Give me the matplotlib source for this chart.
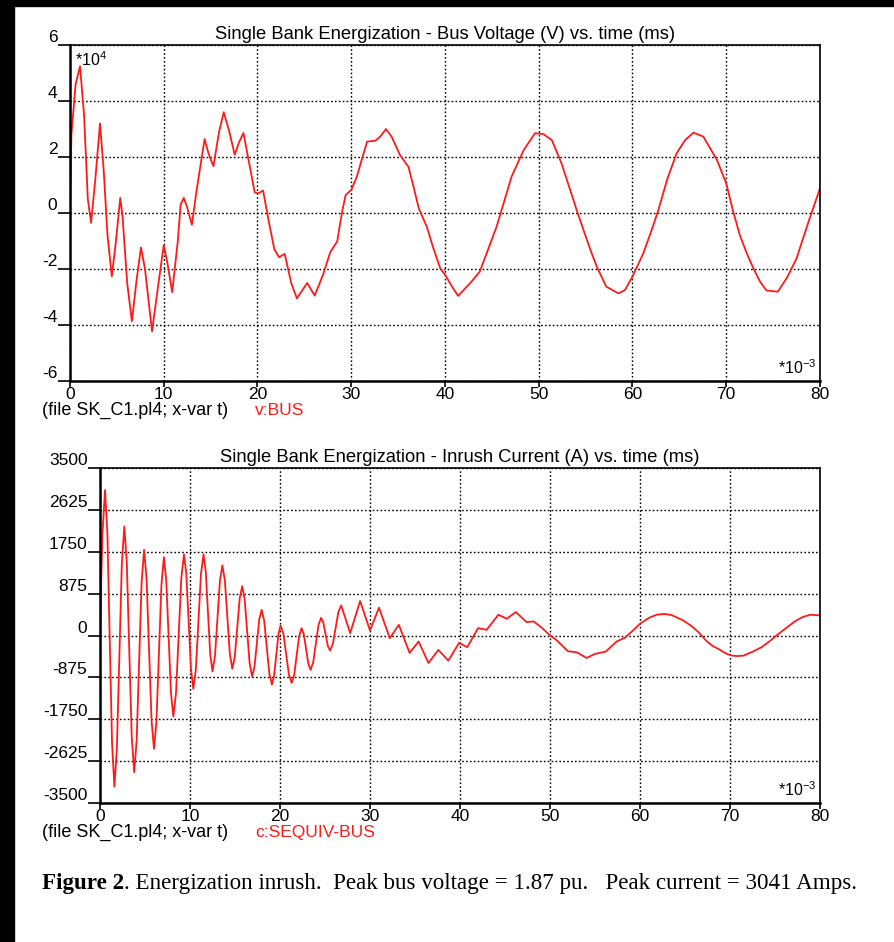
import matplotlib
matplotlib.use("Agg")
import matplotlib.pyplot as plt
from matplotlib.patches import Rectangle

plt.rcParams["font.family"] = ["Liberation Sans", "DejaVu Sans"]
plt.rcParams["mathtext.fontset"] = "custom"
plt.rcParams["mathtext.rm"] = "Liberation Sans"

# ── Data (time in ms) ─────────────────────────────────────────────────
t_volt = [0, 0.15, 0.6, 1.07, 1.5, 1.9, 2.25, 2.7, 3.2, 3.6, 4.0, 4.46, 4.9,
          5.36, 5.6, 6.1, 6.6, 7.1, 7.57, 8.0, 8.75, 9.4, 10, 10.4, 10.9,
          11.5, 11.8, 12.14, 12.5, 13.0, 13.5, 14.36, 14.8, 15.3, 15.9, 16.4,
          17.0, 17.57, 18.0, 18.5, 19.1, 19.7, 20.1, 20.6, 21.2, 21.8, 22.3,
          22.9, 23.6, 24.2, 24.7, 25.3, 26.1, 27.0, 27.76, 28.5, 29.0, 29.4,
          30, 30.6, 31.2, 31.7, 32.56, 33.1, 33.7, 34.3, 35.2, 36.1, 36.6,
          37.2, 38.06, 38.8, 39.5, 40.0, 40.7, 41.4, 42.7, 43.7, 44.6, 45.5,
          46.3, 47.1, 48.4, 49.6, 50.5, 51.4, 52.4, 53.3, 54.1, 54.9, 55.6,
          56.2, 57.2, 58.5, 59.2, 60, 61.15, 62.0, 62.75, 63.7, 64.7, 65.6,
          66.5, 67.55, 69.0, 70.0, 70.7, 71.45, 72.2, 72.9, 73.6, 74.3, 75.5,
          76.5, 77.5, 78.2, 78.9, 80]
v_bus = [0, 2.8, 4.6, 5.24, 3.5, 0.5, -0.35, 1.2, 3.2, 1.5, -0.8, -2.26,
         -1.0, 0.54, -0.1, -2.5, -3.87, -2.4, -1.23, -2.0, -4.23, -2.6, -1.15,
         -1.8, -2.83, -1.0, 0.3, 0.54, 0.2, -0.42, 0.8, 2.64, 2.1, 1.67, 2.9,
         3.6, 2.9, 2.08, 2.5, 2.86, 1.8, 0.74, 0.7, 0.8, -0.3, -1.3, -1.58,
         -1.46, -2.5, -3.05, -2.8, -2.5, -2.95, -2.2, -1.4, -1.02, 0.0, 0.64,
         0.82, 1.3, 2.0, 2.55, 2.58, 2.73, 3.0, 2.73, 2.07, 1.65, 1.0, 0.17,
         -0.49, -1.3, -1.98, -2.2, -2.6, -2.96, -2.5, -2.1, -1.3, -0.49, 0.4,
         1.3, 2.25, 2.85, 2.82, 2.6, 1.8, 0.88, 0.05, -0.73, -1.4, -1.92,
         -2.63, -2.87, -2.75, -2.27, -1.44, -0.65, 0.1, 1.2, 2.13, 2.6, 2.87,
         2.73, 1.9, 1.06, 0.1, -0.79, -1.45, -1.98, -2.45, -2.77, -2.81, -2.3,
         -1.62, -0.9, -0.19, 0.88]  # *10^4 V

t_cur = [0, 0.14, 0.28, 0.56, 0.82, 1.34, 1.6, 1.875, 2.425, 2.7, 2.975,
         3.525, 3.8, 4.075, 4.625, 4.9, 5.175, 5.725, 6.0, 6.275, 6.825, 7.1,
         7.36, 7.89, 8.15, 8.445, 9.035, 9.33, 9.59, 10.11, 10.37, 10.65,
         11.22, 11.5, 11.75, 12.25, 12.5, 12.775, 13.325, 13.6, 13.875,
         14.425, 14.7, 14.975, 15.525, 15.8, 16.075, 16.625, 16.9, 17.165,
         17.695, 17.96, 18.245, 18.815, 19.1, 19.34, 19.83, 20.07, 20.38,
         20.99, 21.3, 21.575, 22.125, 22.4, 22.65, 23.15, 23.4, 23.69, 24.27,
         24.56, 24.81, 25.31, 25.56, 25.87, 26.49, 26.8, 27.8, 28.9, 30, 31.0,
         32.2, 33.2, 34.4, 35.4, 36.5, 37.6, 38.7, 39.9, 40.8, 42.0, 42.96,
         44.26, 45.2, 46.2, 47.4, 48.2, 49.1, 50, 50.7, 52.0, 52.96, 54.07,
         55.0, 56.2, 57.4, 58.3, 59.2, 60, 61.0, 61.85, 62.7, 63.5, 64.8,
         65.7, 66.5, 67.4, 68.1, 68.9, 69.6, 70.2, 70.8, 71.5, 72.5, 73.5,
         74.4, 75.2, 76.2, 77.2, 78.0, 78.9, 80]
i_cur = [0, 1200, 2150, 3041, 2142, -2258, -3157, -2369, 1491, 2279, 1534,
         -2114, -2858, -2185, 1117, 1791, 1187, -1767, -2370, -1789, 1057,
         1638, 1155, -1211, -1694, -1203, 1203, 1694, 1287, -707, -1115, -707,
         1287, 1694, 1340, -398, -753, -431, 1143, 1464, 1151, -383, -697,
         -446, 780, 1031, 757, -583, -857, -655, 335, 537, 311, -799, -1025,
         -846, 30, 209, 36, -816, -990, -825, -13, 153, 26, -592, -718, -561,
         211, 369, 270, -216, -315, -178, 494, 630, 49, 721, 105, 581, -56,
         224, -364, -126, -574, -301, -525, -154, -245, 154, 119, 434, 350,
         490, 280, 294, 160, 0, -91, -329, -350, -469, -385, -336, -126, -49,
         100, 245, 370, 434, 450, 427, 315, 200, 70, -119, -220, -301, -380,
         -420, -430, -420, -340, -245, -120, 7, 150, 294, 380, 434, 420]

volt_ticks = [-6, -4, -2, 0, 2, 4, 6]
cur_ticks = [-3500, -2625, -1750, -875, 0, 875, 1750, 2625, 3500]
time_ticks = [0, 10, 20, 30, 40, 50, 60, 70, 80]

RED = "#ff1a1a"
W, H = 895, 942
FS = 12.5

fig = plt.figure(figsize=(W / 100, H / 100), dpi=100)
fig.patch.set_facecolor("white")

# scanned-page black edges
fig.patches.append(Rectangle((0, 0), 14 / W, 1, transform=fig.transFigure,
                             color="black", zorder=0))
fig.patches.append(Rectangle((0, 1 - 6 / H), 1, 6 / H,
                             transform=fig.transFigure, color="black",
                             zorder=0))


def style_axes(ax, yticks, ylim, title, trace, scale_lbl, note_dy):
    ax.set_xlim(0, 80)
    ax.set_ylim(*ylim)
    ax.set_xticks(time_ticks)
    ax.set_yticks(yticks)
    ax.set_xticklabels([str(t) for t in time_ticks], fontsize=FS)
    ax.set_yticklabels([str(v) for v in yticks], fontsize=FS)
    for lbl in ax.get_yticklabels():
        lbl.set_va("bottom")
    ax.tick_params(axis="y", length=9, width=1.2, pad=0)
    ax.tick_params(axis="x", length=4, width=1.2, pad=0)
    ax.grid(True, color="black", linestyle=(0, (1.2, 1.6)), linewidth=1.0)
    ax.set_axisbelow(True)
    for side in ("left", "bottom"):
        ax.spines[side].set_linewidth(1.8)
    for side in ("top", "right"):
        ax.spines[side].set_linewidth(1.2)
    ax.set_title(title, fontsize=13.2, pad=4)
    if scale_lbl:
        ax.text(0.007, 0.985, scale_lbl, transform=ax.transAxes,
                fontsize=11.5, va="top", ha="left")
    ax.text(0.995, 0.012, r"*10$^{-3}$", transform=ax.transAxes,
            fontsize=11.5, va="bottom", ha="right")
    ax.annotate("(file SK_C1.pl4; x-var t)", xy=(42 / W, 0),
                xycoords=("figure fraction", "axes fraction"),
                xytext=(0, note_dy), textcoords="offset points",
                fontsize=13, va="center")
    ax.annotate(trace, xy=(255 / W, 0),
                xycoords=("figure fraction", "axes fraction"),
                xytext=(0, note_dy), textcoords="offset points",
                fontsize=12.5, va="center", color=RED)


ax1 = fig.add_axes([70 / W, 1 - 381 / H, 750 / W, 336 / H])
ax1.plot(t_volt, v_bus, color=RED, lw=1.3)
style_axes(ax1, volt_ticks, (-6, 6),
           "Single Bank Energization - Bus Voltage (V) vs. time (ms)",
           "v:BUS", r"*10$^4$", -21.5)

ax2 = fig.add_axes([100 / W, 1 - 803 / H, 720 / W, 335 / H])
ax2.plot(t_cur, i_cur, color=RED, lw=1.3)
style_axes(ax2, cur_ticks, (-3500, 3500),
           "Single Bank Energization - Inrush Current (A) vs. time (ms)",
           "c:SEQUIV-BUS", "", -21)

# caption: bold "Figure 2" followed by regular text
cap_y = 1 - 884 / H
bold = fig.text(42 / W, cap_y, "Figure 2", family="Liberation Serif",
                fontweight="bold", fontsize=16.6, va="center", ha="left")
fig.canvas.draw()
bb = bold.get_window_extent()
fig.text(bb.x1 / W, cap_y,
         ". Energization inrush.  Peak bus voltage = 1.87 pu."
         "   Peak current = 3041 Amps.",
         family="Liberation Serif", fontsize=16.6, va="center", ha="left")

fig.savefig("out.png", dpi=100)
